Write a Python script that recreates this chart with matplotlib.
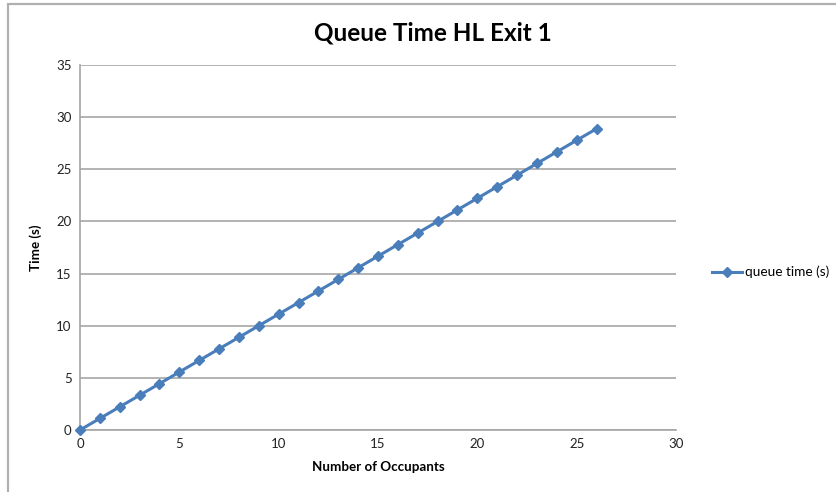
import matplotlib
matplotlib.use("Agg")
import matplotlib.pyplot as plt
from matplotlib.patches import Rectangle
from matplotlib.lines import Line2D

plt.rcParams['font.family'] = ['Lato', 'DejaVu Sans']

occupants = [0, 1, 2, 3, 4, 5, 6, 7, 8, 9, 10, 11, 12, 13, 14, 15, 16, 17, 18,
             19, 20, 21, 22, 23, 24, 25, 26]
queue_time = [0.0, 1.11, 2.22, 3.33, 4.44, 5.56, 6.67, 7.78, 8.89, 10.0, 11.11,
              12.22, 13.33, 14.44, 15.56, 16.67, 17.78, 18.89, 20.0, 21.11,
              22.22, 23.33, 24.44, 25.56, 26.67, 27.78, 28.89]
x_ticks = [0, 5, 10, 15, 20, 25, 30]
y_ticks = [0, 5, 10, 15, 20, 25, 30, 35]

W, H = 836, 492
fig = plt.figure(figsize=(W / 100, H / 100), dpi=100)

# chart area border (top and left edges visible)
fig.patches.append(Rectangle((8 / W, -0.1), 1.2, 1 - 3.5 / H + 0.1,
                             transform=fig.transFigure, fill=False,
                             edgecolor='#b0b0b0', linewidth=1.6))

ax = fig.add_axes([80 / W, 1 - 430 / H, (676 - 80) / W, (430 - 65) / H])
line_color = '#4a7ebb'
ax.plot(occupants, queue_time, color=line_color, linewidth=2.2,
        marker='D', markersize=5.5, markeredgecolor=line_color,
        markerfacecolor=line_color, clip_on=False, zorder=3)

ax.set_xlim(0, 30)
ax.set_ylim(0, 35)
ax.set_xticks(x_ticks)
ax.set_yticks(y_ticks)
ax.tick_params(length=0, labelsize=9.5, colors='#222222', pad=6)
ax.yaxis.grid(True, color='#a6a6a6', linewidth=1.2)
ax.set_axisbelow(True)
for s in ['top', 'right']:
    ax.spines[s].set_visible(False)
for s in ['left', 'bottom']:
    ax.spines[s].set_color('#a6a6a6')
    ax.spines[s].set_linewidth(1.2)

ax.set_xlabel('Number of Occupants', fontsize=9.6, fontweight='bold', labelpad=8)
ax.set_ylabel('Time (s)', fontsize=9.6, fontweight='bold', labelpad=10)

fig.text(433 / W, 1 - 33 / H, 'Queue Time HL Exit 1', ha='center', va='center',
         fontsize=17.5, fontweight='bold')

handle = Line2D([], [], color=line_color, linewidth=2.2, marker='D',
                markersize=5.5, markerfacecolor=line_color,
                markeredgecolor=line_color)
fig.legend([handle], ['queue time (s)'], loc='center left',
           bbox_to_anchor=(700 / W, 1 - 272 / H), frameon=False,
           fontsize=9.8, handlelength=2.2, handletextpad=0.2)

fig.savefig('out.png', dpi=100)
